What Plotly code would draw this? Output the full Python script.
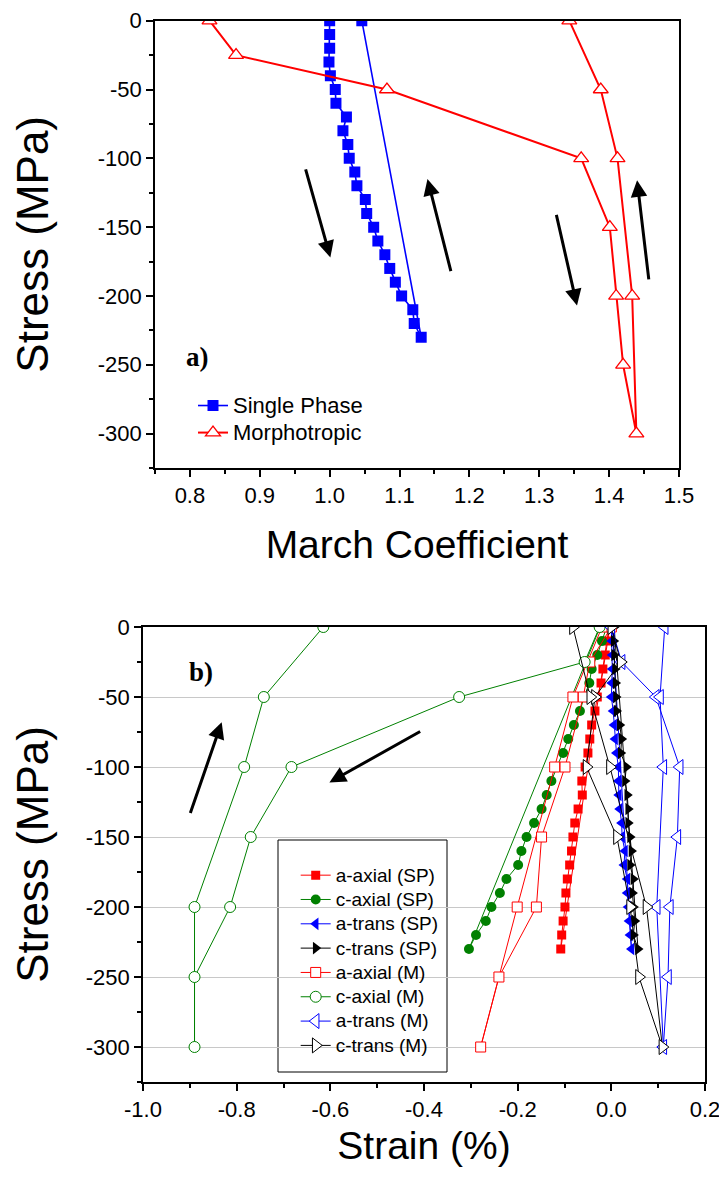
import plotly.graph_objects as go

# ---------------- data: panel a) ----------------
sp_stress = [0, -10, -20, -30, -40, -50, -60, -70, -80, -90, -100, -110, -120,
             -130, -140, -150, -160, -170, -180, -190, -200, -210, -220, -230, 0]
sp_march = [1.000, 1.000, 1.000, 0.999, 1.001, 1.008, 1.009, 1.024, 1.019, 1.026,
            1.028, 1.036, 1.039, 1.051, 1.053, 1.063, 1.069, 1.079, 1.086, 1.094,
            1.103, 1.119, 1.121, 1.131, 1.046]

m_stress = [0, -25, -50, -100, -150, -200, -250, -300, -200, -100, -50, 0]
m_march = [0.828, 0.866, 1.082, 1.360, 1.401, 1.410, 1.420, 1.439, 1.433, 1.412, 1.388, 1.343]

# ---------------- data: panel b) ----------------
a_axial_sp = [-0.003, -0.008, -0.013, -0.018, -0.022, -0.030, -0.035, -0.042, -0.046, -0.050,
              -0.056, -0.063, -0.062, -0.071, -0.078, -0.082, -0.085, -0.089, -0.094, -0.097,
              -0.099, -0.103, -0.106, -0.108, -0.005]
c_axial_sp = [-0.010, -0.020, -0.030, -0.042, -0.047, -0.058, -0.067, -0.080, -0.092, -0.103,
              -0.115, -0.128, -0.138, -0.149, -0.165, -0.181, -0.192, -0.199, -0.224, -0.238,
              -0.256, -0.268, -0.289, -0.304, -0.024]
a_trans_sp = [0.000, 0.001, 0.002, 0.002, 0.001, 0.000, 0.004, 0.006, 0.008, 0.011,
              0.015, 0.015, 0.016, 0.018, 0.022, 0.023, 0.029, 0.027, 0.034, 0.034,
              0.036, 0.038, 0.040, 0.043, 0.002]
c_trans_sp = [0.004, 0.005, 0.006, 0.008, 0.009, 0.010, 0.011, 0.018, 0.022, 0.020,
              0.032, 0.029, 0.034, 0.036, 0.036, 0.040, 0.043, 0.040, 0.047, 0.045,
              0.047, 0.050, 0.047, 0.057, 0.006]

a_axial_m = [0.000, -0.046, -0.060, -0.099, -0.149, -0.160, -0.240, -0.279, -0.201, -0.121, -0.082, -0.020]
c_axial_m = [-0.025, -0.057, -0.325, -0.683, -0.770, -0.814, -0.890, -0.890, -0.890, -0.784, -0.742, -0.615]
a_trans_m = [0.000, 0.022, 0.095, 0.146, 0.141, 0.125, 0.121, 0.111, 0.097, 0.111, 0.104, 0.114]
c_trans_m = [0.000, 0.020, -0.035, -0.053, 0.012, 0.040, 0.059, 0.109, 0.075, -0.003, -0.045, -0.082]

# tick labels
a_xticks = [0.8, 0.9, 1.0, 1.1, 1.2, 1.3, 1.4, 1.5]
a_xlabels = ["0.8", "0.9", "1.0", "1.1", "1.2", "1.3", "1.4", "1.5"]
y_ticks = [0, -50, -100, -150, -200, -250, -300]
y_labels = ["0", "-50", "-100", "-150", "-200", "-250", "-300"]
b_xticks = [-1.0, -0.8, -0.6, -0.4, -0.2, 0.0, 0.2]
b_xlabels = ["-1.0", "-0.8", "-0.6", "-0.4", "-0.2", "0.0", "0.2"]

# arrows: (tail x, tail y, head x, head y)
a_arrows = [(0.965, -107, 1.001, -172), (1.174, -183, 1.140, -115),
            (1.324, -140, 1.354, -207), (1.457, -189, 1.440, -116)]
b_arrows = [(-0.900, -134, -0.832, -68), (-0.405, -74, -0.602, -111)]

# page has an 8px body margin: figure coords = page coords - 8
OFF = 8
W, H = 727 - OFF, 1180 - OFF


def px(xp):
    return (xp - OFF) / W


def py(yp):
    return 1 - (yp - OFF) / H


FONT = "Liberation Sans, Arial, sans-serif"
SERIF = "Liberation Serif, Times New Roman, serif"
BLUE, RED, GREEN, BLACK = "#0000FF", "#FF0000", "#008000", "#000000"

fig = go.Figure()

# panel a traces
fig.add_trace(go.Scatter(x=sp_march, y=sp_stress,
                         name="<span style='font-size:22px'>Single Phase</span>",
                         mode="lines+markers", line=dict(color=BLUE, width=1.6),
                         marker=dict(symbol="square", size=11, color=BLUE),
                         xaxis="x", yaxis="y", legend="legend"))
fig.add_trace(go.Scatter(x=m_march, y=m_stress,
                         name="<span style='font-size:22px'>Morphotropic</span>",
                         mode="lines+markers", line=dict(color=RED, width=2),
                         marker=dict(symbol="triangle-up", size=13, color="white",
                                     line=dict(color=RED, width=1.3)),
                         xaxis="x", yaxis="y", legend="legend"))

# panel b traces
b_series = [
    ("a-axial (SP)", a_axial_sp, sp_stress, RED, "square", 9, True),
    ("c-axial (SP)", c_axial_sp, sp_stress, GREEN, "circle", 10, True),
    ("a-trans (SP)", a_trans_sp, sp_stress, BLUE, "triangle-left", 11, True),
    ("c-trans (SP)", c_trans_sp, sp_stress, BLACK, "triangle-right", 11, True),
    ("a-axial (M)", a_axial_m, m_stress, RED, "square", 10, False),
    ("c-axial (M)", c_axial_m, m_stress, GREEN, "circle", 11, False),
    ("a-trans (M)", a_trans_m, m_stress, BLUE, "triangle-left", 13, False),
    ("c-trans (M)", c_trans_m, m_stress, BLACK, "triangle-right", 13, False),
]
for name, xs, ys, col, sym, size, filled in b_series:
    mk = dict(symbol=sym, size=size, color=col) if filled else \
        dict(symbol=sym, size=size, color="white", line=dict(color=col, width=1))
    fig.add_trace(go.Scatter(x=xs, y=ys, name="<span style='font-size:19px'>%s</span>" % name,
                             mode="lines+markers", line=dict(color=col, width=1), marker=mk,
                             xaxis="x2", yaxis="y2", legend="legend2"))

xa_dom = [px(155), px(679)]
ya_dom = [py(468), py(20.7)]
xb_dom = [px(143), px(705)]
yb_dom = [py(1082), py(627)]

tickfont = dict(family=FONT, size=22, color="black")
xtitlefont = dict(family=FONT, size=39, color="black")
ytitlefont = dict(family=FONT, size=44, color="black")
common = dict(showline=True, linecolor="black", linewidth=1.5, mirror=True,
              ticks="outside", ticklen=7, tickwidth=1.5, tickcolor="black",
              tickfont=tickfont, zeroline=False, automargin=False)


def mirror_axis(over, anchor, side, rng, vals, minor_dtick):
    return dict(overlaying=over, anchor=anchor, side=side, range=rng, tickmode="array",
                tickvals=vals, ticks="inside", ticklen=7, tickwidth=1.5, tickcolor="black",
                showticklabels=False, showgrid=False, zeroline=False, showline=False,
                minor=dict(dtick=minor_dtick, tick0=0, ticks="inside", ticklen=4,
                           tickwidth=1.5, tickcolor="black"), automargin=False)


fig.update_layout(
    xaxis=dict(domain=xa_dom, range=[0.75, 1.5], anchor="y", tickmode="array",
               tickvals=a_xticks, ticktext=a_xlabels, showgrid=False,
               minor=dict(dtick=0.05, tick0=0, ticks="outside", ticklen=4,
                          tickwidth=1.5, tickcolor="black", showgrid=False),
               title=dict(text="March Coefficient", font=xtitlefont, standoff=24), **common),
    yaxis=dict(domain=ya_dom, range=[-325, 0], anchor="x", tickmode="array",
               tickvals=y_ticks, ticktext=y_labels, showgrid=False,
               minor=dict(dtick=25, tick0=0, ticks="outside", ticklen=4,
                          tickwidth=1.5, tickcolor="black", showgrid=False),
               title=dict(text="Stress (MPa)", font=ytitlefont, standoff=35), **common),
    xaxis2=dict(domain=xb_dom, range=[-1.0, 0.2], anchor="y2", tickmode="array",
                tickvals=b_xticks, ticktext=b_xlabels, showgrid=False,
                minor=dict(dtick=0.1, tick0=0, ticks="outside", ticklen=4,
                           tickwidth=1.5, tickcolor="black", showgrid=False),
                title=dict(text="Strain (%)", font=xtitlefont, standoff=11), **common),
    yaxis2=dict(domain=yb_dom, range=[-325, 0], anchor="x2", tickmode="array",
                tickvals=y_ticks, ticktext=y_labels, showgrid=True,
                gridcolor="#C8C8C8", gridwidth=1,
                minor=dict(dtick=25, tick0=0, ticks="outside", ticklen=4,
                           tickwidth=1.5, tickcolor="black", showgrid=False),
                title=dict(text="Stress (MPa)", font=ytitlefont, standoff=24), **common),
    xaxis3=mirror_axis("x", "y", "top", [0.75, 1.5], a_xticks, 0.05),
    yaxis3=mirror_axis("y", "x", "right", [-325, 0], y_ticks, 25),
    xaxis4=mirror_axis("x2", "y2", "top", [-1.0, 0.2], b_xticks, 0.1),
    yaxis4=mirror_axis("y2", "x2", "right", [-325, 0], y_ticks, 25),
    legend=dict(x=px(193), y=py(387), xanchor="left", yanchor="top",
                font=dict(family=FONT, size=18.5, color="black"), bgcolor="rgba(0,0,0,0)",
                borderwidth=0, tracegroupgap=0),
    legend2=dict(x=px(295.7), y=py(858), xanchor="left", yanchor="top",
                 font=dict(family=FONT, size=16.4, color="black"), bgcolor="rgba(0,0,0,0)",
                 borderwidth=0, tracegroupgap=0),
    width=W, height=H, margin=dict(l=0, r=0, t=0, b=0),
    paper_bgcolor="white", plot_bgcolor="white", showlegend=True,
)

# legend frame for panel b
fig.add_shape(type="rect", xref="paper", yref="paper",
              x0=px(278), x1=px(447), y0=py(1072), y1=py(840),
              line=dict(color="black", width=1), fillcolor="white", layer="between")

# panel labels
fig.add_annotation(x=0.811, y=-244, xref="x", yref="y", text="<b>a)</b>", showarrow=False,
                   font=dict(family=SERIF, size=27, color="black"))
fig.add_annotation(x=-0.876, y=-32, xref="x2", yref="y2", text="<b>b)</b>", showarrow=False,
                   font=dict(family=SERIF, size=27, color="black"))

for tx, ty, hx, hy in a_arrows:
    fig.add_annotation(x=hx, y=hy, ax=tx, ay=ty, xref="x", yref="y", axref="x", ayref="y",
                       text="", showarrow=True, arrowhead=2, arrowsize=1.1, arrowwidth=3,
                       arrowcolor="black")
for tx, ty, hx, hy in b_arrows:
    fig.add_annotation(x=hx, y=hy, ax=tx, ay=ty, xref="x2", yref="y2", axref="x2", ayref="y2",
                       text="", showarrow=True, arrowhead=2, arrowsize=1.1, arrowwidth=3,
                       arrowcolor="black")

fig.write_html("out.html")
